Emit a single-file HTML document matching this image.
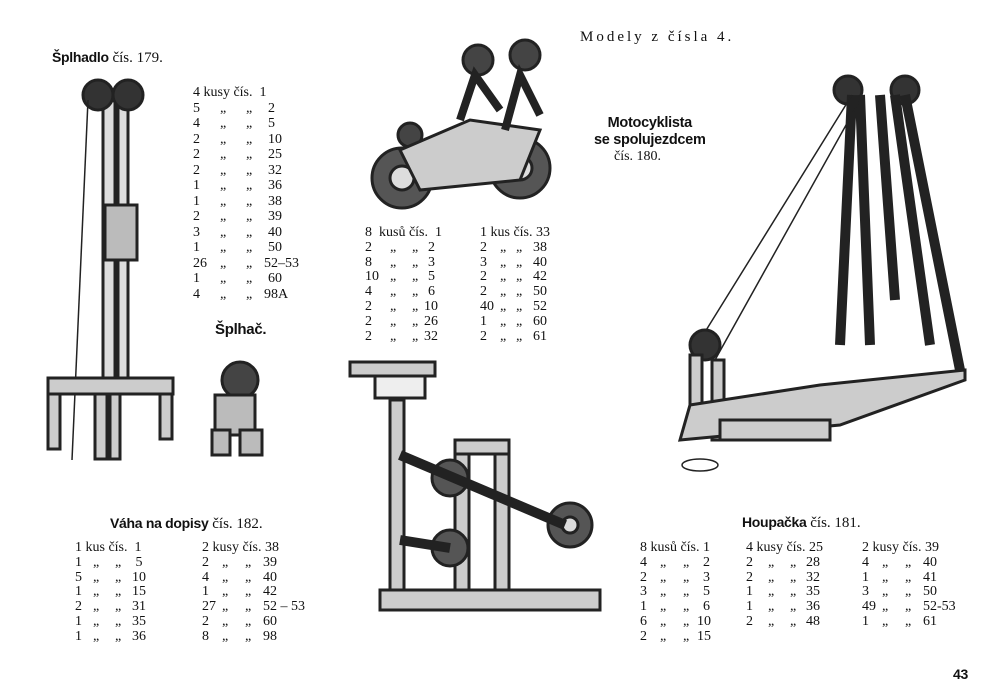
<!DOCTYPE html>
<html><head><meta charset="utf-8"><style>
body{margin:0;width:1000px;height:700px;background:#fff;position:relative;overflow:hidden;font-family:"Liberation Serif",serif;color:#111}
.t{position:absolute;font-size:14px;line-height:14.8px;white-space:pre}
.b{font-family:"Liberation Sans",sans-serif;font-weight:bold;font-size:14px;letter-spacing:-0.3px}
svg{position:absolute;left:0;top:0}
.L{position:absolute;font-size:14px;white-space:normal}
.L div{display:flex;height:14.8px;line-height:14.8px;white-space:pre}
.L i{font-style:normal;display:inline-block}
</style></head><body>
<svg width="1000" height="700" viewBox="0 0 1000 700" fill="none" stroke="#222" stroke-width="3">
<!-- Splhadlo -->
<rect x="103" y="95" width="12" height="290" fill="#ddd"/>
<rect x="118" y="95" width="10" height="290" fill="#ddd"/>
<circle cx="98" cy="95" r="15" fill="#333"/><circle cx="128" cy="95" r="15" fill="#333"/>
<line x1="88" y1="100" x2="72" y2="460" stroke-width="1.5"/>
<rect x="105" y="205" width="32" height="55" fill="#bbb"/>
<rect x="48" y="378" width="125" height="16" fill="#ccc"/>
<rect x="48" y="394" width="12" height="55" fill="#ccc"/><rect x="95" y="394" width="12" height="65" fill="#ccc"/>
<rect x="160" y="394" width="12" height="45" fill="#ccc"/><rect x="110" y="394" width="10" height="65" fill="#ccc"/>
<!-- Splhac -->
<circle cx="240" cy="380" r="18" fill="#444"/><rect x="215" y="395" width="40" height="40" fill="#bbb"/>
<rect x="212" y="430" width="18" height="25" fill="#bbb"/><rect x="240" y="430" width="22" height="25" fill="#bbb"/>
<!-- Motorcycle -->
<circle cx="402" cy="178" r="30" fill="#555"/><circle cx="402" cy="178" r="12" fill="#ddd"/>
<circle cx="520" cy="168" r="30" fill="#555"/><circle cx="520" cy="168" r="12" fill="#ddd"/>
<circle cx="478" cy="60" r="15" fill="#444"/><circle cx="525" cy="55" r="15" fill="#444"/><circle cx="410" cy="135" r="12" fill="#444"/>
<path d="M400 150 L470 120 L540 130 L520 180 L420 190 Z" fill="#ccc"/>
<path d="M460 120 L475 75 L500 110 M505 130 L520 75 L540 115" stroke-width="8"/>
<!-- Scale -->
<rect x="350" y="362" width="85" height="14" fill="#ccc"/><rect x="375" y="376" width="50" height="22" fill="#eee"/>
<rect x="390" y="400" width="14" height="200" fill="#ccc"/>
<rect x="455" y="440" width="14" height="160" fill="#ccc"/><rect x="495" y="440" width="14" height="160" fill="#ccc"/>
<rect x="455" y="440" width="54" height="14" fill="#ccc"/>
<circle cx="450" cy="478" r="18" fill="#555"/><circle cx="450" cy="548" r="18" fill="#555"/>
<circle cx="570" cy="525" r="22" fill="#555"/><circle cx="570" cy="525" r="8" fill="#ddd"/>
<path d="M400 455 L565 525" stroke-width="10"/><path d="M400 540 L450 548" stroke-width="10"/>
<path d="M380 590 L600 590 L600 610 L380 610 Z" fill="#ccc"/>
<!-- Houpacka -->
<circle cx="848" cy="90" r="14" fill="#333"/><circle cx="905" cy="90" r="14" fill="#333"/>
<path d="M852 95 L840 345 M860 95 L870 345 M880 95 L895 300 M895 95 L930 345 M905 95 L960 370" stroke-width="10"/>
<path d="M852 95 L700 340 M860 100 L715 360" stroke-width="1.5"/>
<circle cx="705" cy="345" r="15" fill="#333"/>
<rect x="690" y="355" width="12" height="80" fill="#ccc"/><rect x="712" y="360" width="12" height="80" fill="#ccc"/>
<path d="M680 440 L840 425 L965 380 L965 370 L820 385 L690 405 Z" fill="#ccc"/>
<rect x="720" y="420" width="110" height="20" fill="#ccc"/>
<ellipse cx="700" cy="465" rx="18" ry="6" stroke-width="1.5"/>
</svg>

<div class="t" style="left:580px;top:30px;font-size:15px;letter-spacing:3px">Modely z čísla 4.</div>
<div class="t" style="left:52px;top:50px;font-size:15px"><span class="b">Šplhadlo</span> čís. 179.</div>

<div class="L" style="left:193px;top:86px">
<div style="height:15.5px">4 kusy čís.  1</div>
<div style="height:15.5px"><i style="width:27px">5</i><i style="width:26px">„</i><i style="width:22px">„</i><i>2</i></div>
<div style="height:15.5px"><i style="width:27px">4</i><i style="width:26px">„</i><i style="width:22px">„</i><i>5</i></div>
<div style="height:15.5px"><i style="width:27px">2</i><i style="width:26px">„</i><i style="width:22px">„</i><i>10</i></div>
<div style="height:15.5px"><i style="width:27px">2</i><i style="width:26px">„</i><i style="width:22px">„</i><i>25</i></div>
<div style="height:15.5px"><i style="width:27px">2</i><i style="width:26px">„</i><i style="width:22px">„</i><i>32</i></div>
<div style="height:15.5px"><i style="width:27px">1</i><i style="width:26px">„</i><i style="width:22px">„</i><i>36</i></div>
<div style="height:15.5px"><i style="width:27px">1</i><i style="width:26px">„</i><i style="width:22px">„</i><i>38</i></div>
<div style="height:15.5px"><i style="width:27px">2</i><i style="width:26px">„</i><i style="width:22px">„</i><i>39</i></div>
<div style="height:15.5px"><i style="width:27px">3</i><i style="width:26px">„</i><i style="width:22px">„</i><i>40</i></div>
<div style="height:15.5px"><i style="width:27px">1</i><i style="width:26px">„</i><i style="width:22px">„</i><i>50</i></div>
<div style="height:15.5px"><i style="width:27px">26</i><i style="width:26px">„</i><i style="width:18px">„</i><i>52–53</i></div>
<div style="height:15.5px"><i style="width:27px">1</i><i style="width:26px">„</i><i style="width:22px">„</i><i>60</i></div>
<div style="height:15.5px"><i style="width:27px">4</i><i style="width:26px">„</i><i style="width:18px">„</i><i>98A</i></div>
</div>

<div class="t b" style="left:594px;top:115px;font-size:14.5px;line-height:17px;text-align:center">Motocyklista
se spolujezdcem</div>
<div class="t" style="left:614px;top:150px">čís. 180.</div>

<div class="L" style="left:365px;top:226px">
<div>8  kusů čís.  1</div>
<div><i style="width:25px">2</i><i style="width:22px">„</i><i style="width:16px">„</i><i>2</i></div>
<div><i style="width:25px">8</i><i style="width:22px">„</i><i style="width:16px">„</i><i>3</i></div>
<div><i style="width:25px">10</i><i style="width:22px">„</i><i style="width:16px">„</i><i>5</i></div>
<div><i style="width:25px">4</i><i style="width:22px">„</i><i style="width:16px">„</i><i>6</i></div>
<div><i style="width:25px">2</i><i style="width:22px">„</i><i style="width:12px">„</i><i>10</i></div>
<div><i style="width:25px">2</i><i style="width:22px">„</i><i style="width:12px">„</i><i>26</i></div>
<div><i style="width:25px">2</i><i style="width:22px">„</i><i style="width:12px">„</i><i>32</i></div>
</div>
<div class="L" style="left:480px;top:226px">
<div>1 kus čís. 33</div>
<div><i style="width:20px">2</i><i style="width:16px">„</i><i style="width:17px">„</i><i>38</i></div>
<div><i style="width:20px">3</i><i style="width:16px">„</i><i style="width:17px">„</i><i>40</i></div>
<div><i style="width:20px">2</i><i style="width:16px">„</i><i style="width:17px">„</i><i>42</i></div>
<div><i style="width:20px">2</i><i style="width:16px">„</i><i style="width:17px">„</i><i>50</i></div>
<div><i style="width:20px">40</i><i style="width:16px">„</i><i style="width:17px">„</i><i>52</i></div>
<div><i style="width:20px">1</i><i style="width:16px">„</i><i style="width:17px">„</i><i>60</i></div>
<div><i style="width:20px">2</i><i style="width:16px">„</i><i style="width:17px">„</i><i>61</i></div>
</div>

<div class="t b" style="left:215px;top:323px;font-size:15px">Šplhač.</div>
<div class="t" style="left:110px;top:516px;font-size:15px"><span class="b">Váha na dopisy</span> čís. 182.</div>

<div class="L" style="left:75px;top:541px">
<div>1 kus čís.  1</div>
<div><i style="width:18px">1</i><i style="width:22px">„</i><i style="width:17px">„</i><i> 5</i></div>
<div><i style="width:18px">5</i><i style="width:22px">„</i><i style="width:17px">„</i><i>10</i></div>
<div><i style="width:18px">1</i><i style="width:22px">„</i><i style="width:17px">„</i><i>15</i></div>
<div><i style="width:18px">2</i><i style="width:22px">„</i><i style="width:17px">„</i><i>31</i></div>
<div><i style="width:18px">1</i><i style="width:22px">„</i><i style="width:17px">„</i><i>35</i></div>
<div><i style="width:18px">1</i><i style="width:22px">„</i><i style="width:17px">„</i><i>36</i></div>
</div>
<div class="L" style="left:202px;top:541px">
<div>2 kusy čís. 38</div>
<div><i style="width:20px">2</i><i style="width:23px">„</i><i style="width:18px">„</i><i>39</i></div>
<div><i style="width:20px">4</i><i style="width:23px">„</i><i style="width:18px">„</i><i>40</i></div>
<div><i style="width:20px">1</i><i style="width:23px">„</i><i style="width:18px">„</i><i>42</i></div>
<div><i style="width:20px">27</i><i style="width:23px">„</i><i style="width:18px">„</i><i>52 – 53</i></div>
<div><i style="width:20px">2</i><i style="width:23px">„</i><i style="width:18px">„</i><i>60</i></div>
<div><i style="width:20px">8</i><i style="width:23px">„</i><i style="width:18px">„</i><i>98</i></div>
</div>

<div class="t" style="left:742px;top:515px;font-size:15px"><span class="b">Houpačka</span> čís. 181.</div>

<div class="L" style="left:640px;top:541px">
<div>8 kusů čís. 1</div>
<div><i style="width:20px">4</i><i style="width:23px">„</i><i style="width:20px">„</i><i>2</i></div>
<div><i style="width:20px">2</i><i style="width:23px">„</i><i style="width:20px">„</i><i>3</i></div>
<div><i style="width:20px">3</i><i style="width:23px">„</i><i style="width:20px">„</i><i>5</i></div>
<div><i style="width:20px">1</i><i style="width:23px">„</i><i style="width:20px">„</i><i>6</i></div>
<div><i style="width:20px">6</i><i style="width:23px">„</i><i style="width:14px">„</i><i>10</i></div>
<div><i style="width:20px">2</i><i style="width:23px">„</i><i style="width:14px">„</i><i>15</i></div>
</div>
<div class="L" style="left:746px;top:541px">
<div>4 kusy čís. 25</div>
<div><i style="width:22px">2</i><i style="width:22px">„</i><i style="width:16px">„</i><i>28</i></div>
<div><i style="width:22px">2</i><i style="width:22px">„</i><i style="width:16px">„</i><i>32</i></div>
<div><i style="width:22px">1</i><i style="width:22px">„</i><i style="width:16px">„</i><i>35</i></div>
<div><i style="width:22px">1</i><i style="width:22px">„</i><i style="width:16px">„</i><i>36</i></div>
<div><i style="width:22px">2</i><i style="width:22px">„</i><i style="width:16px">„</i><i>48</i></div>
</div>
<div class="L" style="left:862px;top:541px">
<div>2 kusy čís. 39</div>
<div><i style="width:20px">4</i><i style="width:23px">„</i><i style="width:18px">„</i><i>40</i></div>
<div><i style="width:20px">1</i><i style="width:23px">„</i><i style="width:18px">„</i><i>41</i></div>
<div><i style="width:20px">3</i><i style="width:23px">„</i><i style="width:18px">„</i><i>50</i></div>
<div><i style="width:20px">49</i><i style="width:23px">„</i><i style="width:18px">„</i><i>52-53</i></div>
<div><i style="width:20px">1</i><i style="width:23px">„</i><i style="width:18px">„</i><i>61</i></div>
</div>

<div class="t b" style="left:953px;top:667px">43</div>
</body></html>
